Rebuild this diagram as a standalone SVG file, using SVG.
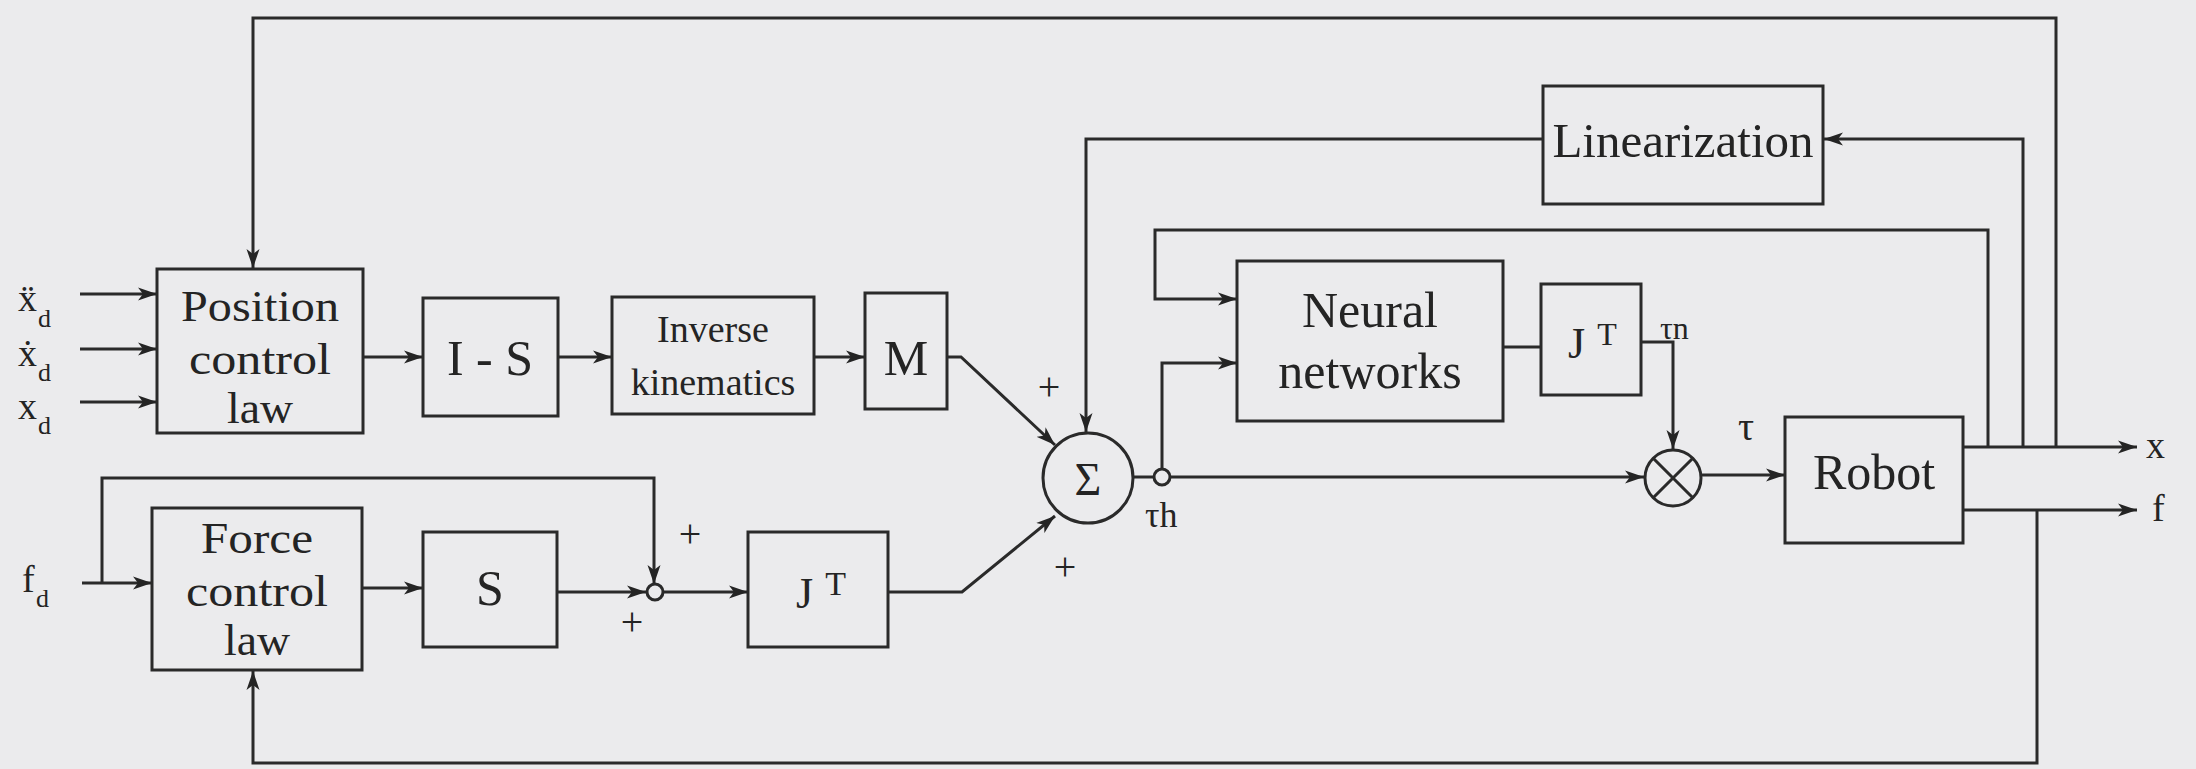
<svg xmlns="http://www.w3.org/2000/svg" width="2196" height="769" viewBox="0 0 2196 769">
  <defs>
    <marker id="arrow" markerUnits="userSpaceOnUse" markerWidth="22" markerHeight="14" refX="19" refY="7" orient="auto">
      <path d="M0,0.5 L19,7 L0,13.5 L5,7 Z" fill="#242424"/>
    </marker>
    <style>
      .box { fill: none; stroke: #2a2a2a; stroke-width: 3; }
      .wire { fill: none; stroke: #2a2a2a; stroke-width: 3; stroke-linejoin: miter; }
      .arr { marker-end: url(#arrow); }
      .t { font-family: "Liberation Serif", "DejaVu Serif", serif; fill: #242424; text-anchor: middle; }
      .ts { font-family: "Liberation Serif", "DejaVu Serif", serif; fill: #242424; }
    </style>
  </defs>

  <rect x="0" y="0" width="2196" height="769" fill="#ebebed"/>

  <!-- connectors -->
  <g id="connectors">
    <!-- desired trajectory inputs -->
    <path class="wire arr" d="M80,294 H157"/>
    <path class="wire arr" d="M80,349 H157"/>
    <path class="wire arr" d="M80,402 H157"/>
    <!-- position branch -->
    <path class="wire arr" d="M363,357 H423"/>
    <path class="wire arr" d="M558,357 H612"/>
    <path class="wire arr" d="M814,357 H865"/>
    <path class="wire arr" d="M947,357 H961 L1055,445"/>
    <!-- force branch -->
    <path class="wire arr" d="M82,583 H152"/>
    <path class="wire arr" d="M102,583 V478 H654 V584"/>
    <path class="wire arr" d="M362,588 H423"/>
    <path class="wire arr" d="M557,592 H646"/>
    <path class="wire arr" d="M663,592 H748"/>
    <path class="wire arr" d="M888,592 H962 L1055,516"/>
    <!-- summing point output and neural compensation -->
    <path class="wire" d="M1133,477 H1154"/>
    <path class="wire arr" d="M1170,477 H1644"/>
    <path class="wire arr" d="M1162,469 V363 H1237"/>
    <path class="wire arr" d="M1988,447 V230 H1155 V299 H1237"/>
    <path class="wire" d="M1503,347 H1541"/>
    <path class="wire arr" d="M1641,342 H1673 V449"/>
    <path class="wire arr" d="M1701,475 H1785"/>
    <!-- linearization loop -->
    <path class="wire arr" d="M2023,447 V139 H1824"/>
    <path class="wire arr" d="M1543,139 H1086 V432"/>
    <!-- outputs -->
    <path class="wire arr" d="M1963,447 H2137"/>
    <path class="wire arr" d="M1963,510 H2137"/>
    <!-- position feedback -->
    <path class="wire arr" d="M2056,447 V18 H253 V268"/>
    <!-- force feedback -->
    <path class="wire arr" d="M2037,510 V763 H253 V671"/>
  </g>

  <!-- input labels -->
  <g id="inputs">
    <text class="ts" x="18" y="311" font-size="38">ẍ</text>
    <text class="ts" x="38" y="327" font-size="26">d</text>
    <text class="ts" x="18" y="366" font-size="38">ẋ</text>
    <text class="ts" x="38" y="381" font-size="26">d</text>
    <text class="ts" x="18" y="419" font-size="38">x</text>
    <text class="ts" x="38" y="434" font-size="26">d</text>
    <text class="ts" x="22" y="592" font-size="38">f</text>
    <text class="ts" x="36" y="607" font-size="26">d</text>
  </g>

  <g id="position-control-law">
    <rect class="box" x="157" y="269" width="206" height="164"/>
    <text class="t" x="260" y="321" font-size="44" textLength="158" lengthAdjust="spacingAndGlyphs">Position</text>
    <text class="t" x="260" y="374" font-size="44" textLength="142" lengthAdjust="spacingAndGlyphs">control</text>
    <text class="t" x="260" y="423" font-size="44" textLength="66" lengthAdjust="spacingAndGlyphs">law</text>
  </g>

  <g id="i-minus-s">
    <rect class="box" x="423" y="298" width="135" height="118"/>
    <text class="t" x="490" y="375" font-size="50">I - S</text>
  </g>

  <g id="inverse-kinematics">
    <rect class="box" x="612" y="297" width="202" height="117"/>
    <text class="t" x="713" y="342" font-size="38">Inverse</text>
    <text class="t" x="713" y="395" font-size="38">kinematics</text>
  </g>

  <g id="mass-matrix">
    <rect class="box" x="865" y="293" width="82" height="116"/>
    <text class="t" x="906" y="375" font-size="50">M</text>
  </g>

  <g id="force-control-law">
    <rect class="box" x="152" y="508" width="210" height="162"/>
    <text class="t" x="257" y="553" font-size="44" textLength="112" lengthAdjust="spacingAndGlyphs">Force</text>
    <text class="t" x="257" y="606" font-size="44" textLength="142" lengthAdjust="spacingAndGlyphs">control</text>
    <text class="t" x="257" y="655" font-size="44" textLength="66" lengthAdjust="spacingAndGlyphs">law</text>
  </g>

  <g id="selection-s">
    <rect class="box" x="423" y="532" width="134" height="115"/>
    <text class="t" x="490" y="605" font-size="50">S</text>
  </g>

  <g id="force-junction">
    <circle cx="655" cy="592" r="8" fill="none" stroke="#2a2a2a" stroke-width="3"/>
    <text class="t" x="690" y="547" font-size="40">+</text>
    <text class="t" x="632" y="635" font-size="40">+</text>
  </g>

  <g id="jacobian-force">
    <rect class="box" x="748" y="532" width="140" height="115"/>
    <text class="ts" x="796" y="608" font-size="44">J<tspan dx="12" dy="-13" font-size="34">T</tspan></text>
  </g>

  <g id="summation">
    <circle cx="1088" cy="478" r="45" fill="none" stroke="#2a2a2a" stroke-width="3"/>
    <text class="t" x="1088" y="495" font-size="46">Σ</text>
    <text class="t" x="1049" y="400" font-size="40">+</text>
    <text class="t" x="1065" y="580" font-size="40">+</text>
  </g>

  <g id="tau-h-junction">
    <circle cx="1162" cy="477" r="8" fill="none" stroke="#2a2a2a" stroke-width="3"/>
    <text class="ts" x="1145" y="527" font-size="36">τh</text>
  </g>

  <g id="linearization">
    <rect class="box" x="1543" y="86" width="280" height="118"/>
    <text class="t" x="1683" y="157" font-size="49">Linearization</text>
  </g>

  <g id="neural-networks">
    <rect class="box" x="1237" y="261" width="266" height="160"/>
    <text class="t" x="1370" y="327" font-size="50">Neural</text>
    <text class="t" x="1370" y="388" font-size="50">networks</text>
  </g>

  <g id="jacobian-neural">
    <rect class="box" x="1541" y="284" width="100" height="111"/>
    <text class="ts" x="1568" y="358" font-size="44">J<tspan dx="12" dy="-13" font-size="32">T</tspan></text>
    <text class="ts" x="1660" y="339" font-size="32">τn</text>
  </g>

  <g id="multiplier">
    <circle cx="1673" cy="478" r="28" fill="none" stroke="#2a2a2a" stroke-width="3"/>
    <path class="wire" d="M1653.2,458.2 L1692.8,497.8 M1692.8,458.2 L1653.2,497.8"/>
    <text class="t" x="1746" y="440" font-size="40">τ</text>
  </g>

  <g id="robot">
    <rect class="box" x="1785" y="417" width="178" height="126"/>
    <text class="t" x="1874" y="489" font-size="50">Robot</text>
  </g>

  <g id="outputs">
    <text class="ts" x="2146" y="458" font-size="38">x</text>
    <text class="ts" x="2152" y="521" font-size="38">f</text>
  </g>
</svg>
